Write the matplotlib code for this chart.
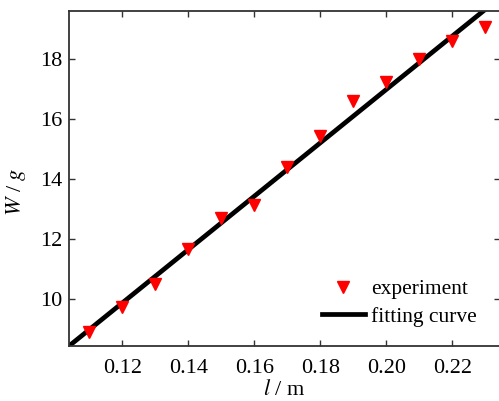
import numpy as np
import matplotlib
matplotlib.use("Agg")
from matplotlib import pyplot as plt

plt.rcParams['font.family'] = ['Liberation Serif', 'DejaVu Serif']
plt.rcParams['mathtext.fontset'] = 'stix'

# measured length l (m) and weight W (g)
length = [0.11, 0.12, 0.13, 0.14, 0.15, 0.16, 0.17, 0.18, 0.19, 0.20, 0.21, 0.22, 0.23]
weight = [8.91, 9.72, 10.5, 11.67, 12.7, 13.13, 14.4, 15.43, 16.6, 17.23, 18.0, 18.6, 19.07]

# linear fit W = slope * l + intercept
slope = 88.9
intercept = -0.80

fig = plt.figure(figsize=(4.99, 4.01), dpi=100)
ax = fig.add_axes([0.138, 0.137, 0.865, 0.836])

ax.plot(length, weight, 'v', color='red', markersize=9, label='experiment', zorder=3)
x_fit = np.array([0.100, 0.240])
ax.plot(x_fit, slope * x_fit + intercept, color='black', linewidth=3.4,
        label='fitting curve', zorder=2)

ax.set_xlim(0.1038, 0.2346)
ax.set_ylim(8.43, 19.6)
ax.set_xticks([0.12, 0.14, 0.16, 0.18, 0.20, 0.22])
ax.set_xticklabels(['0.12', '0.14', '0.16', '0.18', '0.20', '0.22'])
ax.set_yticks([10, 12, 14, 16, 18])

ax.tick_params(direction='in', top=True, right=True, length=4, width=1,
               labelsize=16, color='#333333')
ax.tick_params(axis='x', pad=9)
ax.tick_params(axis='y', pad=5)
for s in ax.spines.values():
    s.set_linewidth(1.3)
    s.set_color('#333333')

ax.set_xlabel(r'$\mathit{l}$ / m', fontsize=16, labelpad=2)
ax.set_ylabel(r'$\mathit{W}$ / $\mathit{g}$', fontsize=16)
ax.yaxis.set_label_coords(-0.095, 0.46)

ax.legend(loc='lower right', bbox_to_anchor=(0.99, 0.0), frameon=False,
          fontsize=15.5, handlelength=2.0, handletextpad=0.3, labelspacing=0.35)

fig.savefig('out.png', dpi=100)
